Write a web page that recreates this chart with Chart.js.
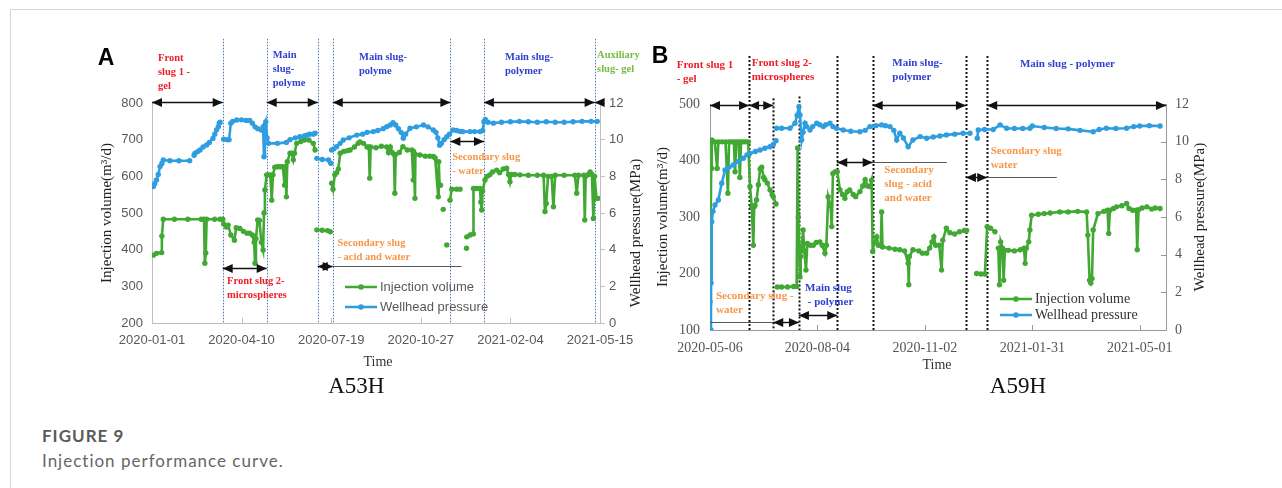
<!DOCTYPE html>
<html>
<head>
<meta charset="utf-8">
<script src="https://cdn.jsdelivr.net/npm/chart.js@4.4.0/dist/chart.umd.min.js"></script>
<style>
  html, body { margin: 0; padding: 0; background: #fff; }
  body { width: 1282px; height: 488px; position: relative; overflow: hidden; }
  .frame-top { position: absolute; left: 10px; top: 9px; width: 1272px; height: 1px; background: #d6d6d6; }
  .frame-left { position: absolute; left: 10px; top: 9px; width: 1px; height: 479px; background: #d6d6d6; }
  #chartA { position: absolute; left: 80px; top: 36px; }
  #chartB { position: absolute; left: 640px; top: 36px; }
  .fig-title { position: absolute; left: 42px; top: 425px; font: bold 17px Lato, sans-serif; color: #5a5a5a; letter-spacing: 1px; }
  .fig-text { position: absolute; left: 42px; top: 450px; font: 17px Lato, sans-serif; color: #666; letter-spacing: 1px; }
</style>
</head>
<body>
<div class="frame-top"></div>
<div class="frame-left"></div>
<canvas id="chartA" width="580" height="370"></canvas>
<canvas id="chartB" width="580" height="370"></canvas>
<div class="fig-title">FIGURE 9</div>
<div class="fig-text">Injection performance curve.</div>
<script>
// ---- A53H (days since 2020-01-01) ----
const volDaysA = [1.5, 5, 10.8, 11, 12.6, 25, 40, 55, 58, 59, 60, 61, 70, 76, 79, 80, 83, 85, 88, 92, 94, 98, 102, 106, 109, 112, 114, 115, 116, 118, 120, 122, 124, 125, 126, 128, 130, 132, 133.6, 135, 137, 140, 143, 146, 148, 149, 150, 151, 154, 156, 157.7, 159, 161.5, 166, 170, 175, 180, 182, 183,
  184, 190, 196, 199, 200,
  200.5, 202, 204, 206, 208, 210, 214, 218, 221, 226, 230, 232, 236, 240, 242, 243, 244, 250, 256, 262, 264, 266, 268, 270, 271, 272, 276, 280, 285, 290, 291.6, 292, 293.5, 294, 299, 305, 310, 314, 316, 319.5, 320, 321, 322, 323,
  325, 326, 329, 330,
  332.6, 334.5, 340, 343.8, 345, 351, 351.2, 351.3, 355, 358.6, 358.8, 362, 366, 367, 368, 369, 371.6, 374, 377, 380, 384.7, 388, 392, 395.8, 398, 399.5, 401, 405, 410.7, 420, 430, 437, 438.6, 440, 442, 446, 448, 450, 460, 472, 474, 476, 482, 483, 484, 487, 489, 491, 492.6, 494, 496, 498];
const volumeA = [385, 390, 392, 437, 483, 483, 483, 483, 483, 363, 391, 483, 483, 483, 483, 470, 462, 467, 440, 426, 460, 458, 450, 445, 445, 440, 420, 363, 430, 481, 480, 420, 399, 500, 563, 604, 604, 604, 535, 604, 625, 626, 626, 626, 576, 626, 544, 640, 663, 663, 645, 663, 690, 695, 699, 699, 690, 672, null,
  454, 453, 452, 449, null,
  581, 565, 604, 610, 620, 663, 668, 670, 672, 680, 690, 694, 690, 680, 680, 595, 680, 678, 682, 680, 665, 680, 665, 660, 554, 660, 665, 681, 672, 672, 590, 668, 540, 660, 658, 655, 655, 654, 650, 544, 640, 576, 576, null,
  510, null, 413, null,
  535, 565, 565, 565, null, 404, null, 435, 440, 443, 567, 567, 567, 530, 508, 560, 590, 600, 604, 612, 617, 610, 620, 622, 605, 585, 605, 605, 604, 603, 603, 603, 504, 526, 600, 600, 517, 603, 603, 603, 554, 603, 603, 481, 600, 605, 612, 605, 485, 600, 540, 540];

const presDaysA = [1.5, 3, 5, 7, 9, 11, 12.6, 20, 30, 42, 45,
  47, 48, 51, 53.6, 57, 61, 64, 68, 70, 72, 74, 75, 76, 78,
  80, 84, 86, 88, 90, 94.5, 100, 105, 109, 112, 115, 118, 122, 124, 125, 126, 127, 128.5, 130, 140, 150, 154, 160, 165, 170, 172.6, 176, 180, 182, 183,
  184, 190, 197, 199.5, 200,
  200.5, 203, 206, 210, 213.5, 220, 228.5, 235, 240, 247, 252, 258, 262, 266, 269, 272, 275, 278, 280.5, 283, 288, 295, 303, 308, 314, 317, 319, 321, 323, 326, 329, 332, 336, 340, 344, 347, 355, 360, 366, 369, 370.5, 372, 375, 381, 390, 400, 410, 420, 430, 440, 450, 460, 470, 480, 490, 497];
const pressureA = [7.44, 7.6, 7.8, 8.1, 8.53, 8.7, 8.89, 8.85, 8.85, 8.85, null,
  9.15, 9.26, 9.35, 9.44, 9.6, 9.71, 9.85, 10.07, 10.3, 10.53, 10.7, 10.9, 10.95, null,
  10.02, 10.0, 10.0, 10.9, 11.0, 11.07, 11.08, 11.05, 11.05, 10.9, 10.7, 10.6, 10.53, 10.7, 9.07, 10.8, 10.98, 10.1, 9.8, 9.8, 9.85, 10.0, 10.1, 10.16, 10.2, 10.25, 10.3, 10.3, 10.35, null,
  8.98, 8.92, 8.89, 8.71, null,
  9.44, 9.5, 9.62, 9.8, 9.98, 10.1, 10.25, 10.3, 10.4, 10.44, 10.5, 10.6, 10.71, 10.8, 10.93, 10.8, 10.6, 10.4, 10.08, 10.3, 10.62, 10.7, 10.8, 10.7, 10.53, 10.4, 10.1, 9.7, 9.8, 10.0, 10.16, 10.3, 10.53, 10.5, 10.45, 10.44, 10.44, 10.44, 10.44, 10.5, 10.98, 11.1, 10.95, 10.9, 10.95, 10.98, 11.0, 10.98, 10.95, 10.98, 10.95, 10.95, 10.98, 11.0, 11.0, 11.0];

// ---- A59H (days since 2020-05-06) ----
const volDaysB = [0, 1.2, 1.4, 1.6, 4, 6, 7, 10, 13, 15, 16, 18, 20, 21, 22, 24, 25, 26, 28, 30, 32, 33.5, 35, 36.3, 37, 37.7, 39, 40.5, 42, 43.3, 45, 46, 48, 50.3, 52, 53, 55.3, 56,
  56.4, 60, 65, 70, 72.6, 73.4, 74, 75.4, 76, 78, 79, 80.4, 81.5, 84, 86.5, 89, 92, 94, 96.3, 97.5, 99, 101, 102, 103, 105, 106.6, 108.9, 111, 113, 115, 117, 120, 122, 125.6, 128, 130, 132, 134, 135.4, 136.3, 137.5, 139.6, 141, 143, 143.8, 144.5, 150, 155, 159, 163, 166, 166.5, 167, 170, 175, 178, 181.5, 184, 186, 187.5, 189, 192, 194, 195, 198, 201, 205, 209, 213, 215, 220,
  223.4, 227, 230.3, 232.2, 235, 238.7, 240,
  241.5, 242.5, 243.5, 245, 246, 247, 250, 255, 260, 263, 264, 265, 267, 268, 269.4, 275, 280, 285, 293, 300, 308, 315.5, 316.5, 318, 319, 320, 321, 325, 330, 333, 334, 335, 338, 340.6, 345, 349, 351, 354, 357, 357.9, 359, 362, 366, 370, 373, 377];
const volumeB = [150, 436, 386, 436, 433, 386, 433, 433, 433, 342, 433, 433, 433, 380, 433, 433, 370, 433, 433, 433, 433, 354, 318, 250, 318, 321, 330, 357, 385, 388, 370, 366, 360, 348, 340, 336, 323, null,
  176, 176, 176, 177, 177, 422, 300, 194, 230, 277, 240, 206, 253, 250, 250, 255, 256, 250, 236, 250, 336, 320, 283, 377, 380, 380, 348, 340, 333, 345, 348, 340, 336, 345, 355, 366, 355, 354, 365, 239, 255, 265, 250, 250, 309, 247, 245, 243, 242, 240, 218, 180, 230, 242, 240, 236, 236, 245, 256, 265, 250, 250, 206, 259, 280, 272, 270, 274, 276, 276, null,
  200, 199, 199, 283, 280, 274, null,
  245, 180, 256, 245, 188, 241, 241, 240, 242, 245, 218, 245, 256, 277, 303, 305, 306, 307, 309, 309, 310, 309, 268, 188, 183, 191, 277, 306, 310, 312, 271, 312, 315, 318, 320, 324, 315, 312, 312, 242, 313, 316, 318, 314, 316, 315];

const presDaysB = [0.8, 0.9, 1.4, 2.5, 4.2, 7, 9.8, 12.6, 16, 19.5, 24, 27.9, 31, 33.5, 38, 41.9, 46, 50.2, 53, 55.3, 55.5,
  55.8, 60, 67, 71.2, 73, 74.5, 75.4, 76.8, 78, 79.6, 81, 83.8, 86, 89.4, 92, 94.9, 97, 100.5, 103, 106, 111.6, 118, 125.6, 130, 134, 139, 143.8, 147, 150.8, 154, 156.4, 159, 162, 166, 170, 176, 181.5, 187, 192.6, 198, 205, 212, 217.8, 220,
  223.9, 224.7, 230, 237.3, 243, 248.5, 255, 262, 268, 270, 280, 290, 300, 310, 321, 326, 332, 340, 349, 355, 360, 368, 377];
const pressureB = [0, 2.5, 5.75, 6.3, 6.64, 6.9, 7.79, 8.5, 8.65, 8.76, 8.95, 9.12, 9.3, 9.38, 9.48, 9.56, 9.65, 9.73, 9.85, 10.05, null,
  10.71, 10.71, 10.71, 10.98, 11.4, 11.86, 11.42, 10.09, 10.5, 10.98, 10.8, 10.62, 10.8, 10.98, 10.9, 10.8, 10.9, 10.98, 10.8, 10.71, 10.62, 10.55, 10.53, 10.6, 10.8, 10.85, 10.89, 10.85, 10.8, 10.6, 10.09, 10.45, 10.2, 9.73, 10.09, 10.27, 10.18, 10.25, 10.3, 10.36, 10.4, 10.45, 10.45, null,
  10.18, 10.62, 10.65, 10.65, 10.89, 10.71, 10.7, 10.7, 10.71, 10.83, 10.75, 10.7, 10.68, 10.6, 10.53, 10.65, 10.71, 10.7, 10.71, 10.8, 10.83, 10.85, 10.83];

// ---- phase annotations: x in days, y in MPa (right axis) ----
const RED = "#ee1c25";
const BLUE = "#2f3fd0";
const ORANGE = "#f79646";
const LIME = "#76bb40";

const dividersA = [78.9, 128, 185, 201.7, 333, 370.5, 494];
const dividerTopsA = [15.5, 15.5, 15.5, 15.5, 15.5, 15.5, 15.5];
const arrowsA = [
  { from: 0, to: 78.9, p: 12.06, heads: "both" },
  { from: 128, to: 185, p: 12.06, heads: "both" },
  { from: 201.7, to: 333, p: 12.06, heads: "both" },
  { from: 370.5, to: 494, p: 12.06, heads: "both" },
  { from: 494, to: 500, p: 12.06, heads: "left" },
  { from: 78.9, to: 128, p: 3.0, heads: "both" },
  { from: 185, to: 201.7, p: 3.13, heads: "both" },
  { from: 201.7, to: 345.5, p: 3.13, heads: "none" },
  { from: 333, to: 370.5, p: 9.9, heads: "both" }
];
const phaseLabelsA = [
  { lines: ["Front", "slug 1 -", "gel"], day: 6.7, p: 14.46, color: RED },
  { lines: ["Main", "slug-", "polyme"], day: 134.7, p: 14.62, color: BLUE },
  { lines: ["Main slug-", "polyme"], day: 231, p: 14.51, color: BLUE },
  { lines: ["Main slug-", "polymer"], day: 394, p: 14.51, color: BLUE },
  { lines: ["Auxiliary", "slug- gel"], day: 496.7, p: 14.62, color: LIME },
  { lines: ["Front slug 2-", "microspheres"], day: 83.7, p: 2.29, color: RED },
  { lines: ["Secondary slug", "- acid and water"], day: 207, p: 4.36, color: ORANGE },
  { lines: ["Secondary slug", "- water"], day: 335, p: 9.02, color: ORANGE }
];

const dividersB = [32.7, 53, 74.5, 106.6, 136.3, 214.4, 232.2];
const dividerTopsB = [14.55, 12.3, 12.4, 14.55, 14.55, 14.55, 14.55];
const arrowsB = [
  { from: 0, to: 32.7, p: 11.95, heads: "both" },
  { from: 32.7, to: 53, p: 11.95, heads: "both" },
  { from: 136.3, to: 214.4, p: 11.95, heads: "both" },
  { from: 232.2, to: 382, p: 11.95, heads: "both" },
  { from: 106.6, to: 136.3, p: 8.94, heads: "both" },
  { from: 136.3, to: 198.3, p: 8.94, heads: "none" },
  { from: 214.4, to: 232.2, p: 8.14, heads: "both" },
  { from: 232.2, to: 290.5, p: 8.14, heads: "none" },
  { from: 0, to: 53, p: 0.44, heads: "none" },
  { from: 53, to: 74.5, p: 0.44, heads: "both" },
  { from: 74.5, to: 106.6, p: 0.8, heads: "both" }
];
const phaseLabelsB = [
  { lines: ["Front slug 1", "- gel"], day: -27.9, p: 14.07, color: RED },
  { lines: ["Front slug 2-", "microspheres"], day: 34.9, p: 14.15, color: RED },
  { lines: ["Main slug-", "polymer"], day: 152.7, p: 14.15, color: BLUE },
  { lines: ["Main slug - polymer"], day: 259.6, p: 14.13, color: BLUE },
  { lines: ["Secondary", "slug - acid", "and water"], day: 146, p: 8.5, color: ORANGE },
  { lines: ["Secondary slug", "water"], day: 235.1, p: 9.51, color: ORANGE },
  { lines: ["Secondary slug -", "water"], day: 5, p: 1.82, color: ORANGE },
  { lines: ["Main slug", " - polymer"], day: 79.6, p: 2.23, color: BLUE }
];

const GREEN = "#41a834";
const SKY = "#2f9ee0";

function toPoints(days, values) {
  return days.map((d, i) => ({ x: d, y: values[i] }));
}

function dayLabel(base, d) {
  return new Date(base + d * 86400000).toISOString().slice(0, 10);
}

function drawArrow(ctx, x1, x2, y, heads, color, width) {
  ctx.save();
  ctx.strokeStyle = color;
  ctx.fillStyle = color;
  ctx.lineWidth = width;
  ctx.beginPath();
  ctx.moveTo(x1, y);
  ctx.lineTo(x2, y);
  ctx.stroke();
  const len = 10, half = 4.5;
  if (heads === "both" || heads === "left") {
    ctx.beginPath();
    ctx.moveTo(x1, y);
    ctx.lineTo(x1 + len, y - half);
    ctx.lineTo(x1 + len, y + half);
    ctx.closePath();
    ctx.fill();
  }
  if (heads === "both" || heads === "right") {
    ctx.beginPath();
    ctx.moveTo(x2, y);
    ctx.lineTo(x2 - len, y - half);
    ctx.lineTo(x2 - len, y + half);
    ctx.closePath();
    ctx.fill();
  }
  ctx.restore();
}

function makeOverlay(cfg) {
  return {
    id: "overlay",
    beforeDatasetsDraw(chart) {
      const ctx = chart.ctx;
      const xs = chart.scales.x;
      const ys = chart.scales.y1;
      const area = chart.chartArea;
      ctx.save();
      ctx.strokeStyle = cfg.dividerColor;
      ctx.lineWidth = cfg.dividerWidth;
      ctx.setLineDash(cfg.dividerDash);
      cfg.dividers.forEach((d, i) => {
        const x = Math.round(xs.getPixelForValue(d)) + 0.5;
        ctx.beginPath();
        ctx.moveTo(x, ys.getPixelForValue(cfg.dividerTops[i]));
        ctx.lineTo(x, area.bottom);
        ctx.stroke();
      });
      ctx.restore();

      // small inward tick marks
      ctx.save();
      ctx.strokeStyle = cfg.axisColor;
      ctx.lineWidth = 1;
      xs.ticks.forEach((t) => {
        const x = Math.round(xs.getPixelForValue(t.value)) + 0.5;
        ctx.beginPath();
        ctx.moveTo(x, area.bottom);
        ctx.lineTo(x, area.bottom - 5);
        ctx.stroke();
      });
      if (cfg.innerRightTicks) {
        ys.ticks.forEach((t) => {
          const y = Math.round(ys.getPixelForValue(t.value)) + 0.5;
          ctx.beginPath();
          ctx.moveTo(area.right, y);
          ctx.lineTo(area.right - 5, y);
          ctx.stroke();
        });
      }
      ctx.restore();
    },
    afterDatasetsDraw(chart) {
      const ctx = chart.ctx;
      const xs = chart.scales.x;
      const ys = chart.scales.y1;
      cfg.arrows.forEach((a) => {
        const y = Math.round(ys.getPixelForValue(a.p)) + 0.5;
        const color = a.heads === "none" ? "#555" : "#111";
        drawArrow(ctx, xs.getPixelForValue(a.from), xs.getPixelForValue(a.to), y, a.heads, color, a.heads === "none" ? 1 : 1.4);
      });
      ctx.save();
      ctx.font = cfg.labelFont;
      ctx.textAlign = "left";
      ctx.textBaseline = "middle";
      cfg.labels.forEach((l) => {
        ctx.fillStyle = l.color;
        const x = xs.getPixelForValue(l.day);
        const y = ys.getPixelForValue(l.p);
        l.lines.forEach((line, i) => ctx.fillText(line, x, y + i * cfg.labelLine));
      });
      ctx.restore();
    },
    afterDraw(chart) {
      const ctx = chart.ctx;
      const area = chart.chartArea;
      const xs = chart.scales.x;
      const ys = chart.scales.y1;
      ctx.save();
      ctx.fillStyle = "#222";
      ctx.textAlign = "center";
      ctx.textBaseline = "middle";
      ctx.font = "15px 'Liberation Serif'";
      const midY = (area.top + area.bottom) / 2;
      ctx.save();
      ctx.translate(area.left - cfg.leftTitleGap, midY + cfg.leftTitleShift);
      ctx.rotate(-Math.PI / 2);
      ctx.fillText("Injection volume(m\u00b3/d)", 0, 0);
      ctx.restore();
      ctx.save();
      ctx.translate(area.right + cfg.rightTitleGap, midY + cfg.rightTitleShift);
      ctx.rotate(-Math.PI / 2);
      ctx.fillText("Wellhead pressure(MPa)", 0, 0);
      ctx.restore();
      ctx.fillStyle = "#333";
      ctx.font = "14px 'Liberation Serif'";
      ctx.fillText("Time", cfg.timeX, area.bottom + cfg.timeGap);
      ctx.fillStyle = "#111";
      ctx.font = "23px 'Liberation Serif'";
      ctx.fillText(cfg.well, xs.getPixelForValue(cfg.wellDay), area.bottom + cfg.wellGap);
      ctx.font = "bold 23px 'Liberation Sans'";
      ctx.fillStyle = "#000";
      ctx.fillText(cfg.letter, area.left - cfg.letterDx, area.top - cfg.letterDy);

      // legend
      const lx = xs.getPixelForValue(cfg.legendDay);
      chart.data.datasets.slice().sort((a, b) => a.legendRank - b.legendRank).forEach((ds, i) => {
        const y = ys.getPixelForValue(cfg.legendP) + i * cfg.legendRow;
        ctx.strokeStyle = ds.borderColor;
        ctx.fillStyle = ds.borderColor;
        ctx.lineWidth = 2.5;
        ctx.beginPath();
        ctx.moveTo(lx, y);
        ctx.lineTo(lx + 32, y);
        ctx.stroke();
        ctx.beginPath();
        ctx.arc(lx + 16, y, 2.8, 0, Math.PI * 2);
        ctx.fill();
        ctx.fillStyle = cfg.legendColor;
        ctx.font = cfg.legendFont;
        ctx.textAlign = "left";
        ctx.fillText(ds.label, lx + 35, y + 0.5);
      });
      ctx.restore();
    }
  };
}

function buildChart(canvasId, opt) {
  return new Chart(document.getElementById(canvasId), {
    type: "line",
    data: {
      datasets: [
        {
          label: "Wellhead pressure",
          data: toPoints(opt.presDays, opt.pressure),
          yAxisID: "y1",
          borderColor: SKY,
          backgroundColor: SKY,
          pointBackgroundColor: SKY,
          legendRank: 1,
          order: 1
        },
        {
          label: "Injection volume",
          data: toPoints(opt.volDays, opt.volume),
          yAxisID: "y",
          borderColor: GREEN,
          backgroundColor: GREEN,
          pointBackgroundColor: GREEN,
          legendRank: 0,
          order: 2
        }
      ]
    },
    options: {
      responsive: false,
      animation: false,
      devicePixelRatio: 1,
      spanGaps: false,
      layout: { padding: { top: opt.padTop, left: 0, right: 0, bottom: 0 } },
      elements: {
        line: { borderWidth: 2.6, tension: 0 },
        point: { radius: 2.7, borderWidth: 0, hoverRadius: 2.7 }
      },
      plugins: { legend: { display: false }, tooltip: { enabled: false } },
      scales: {
        x: {
          type: "linear",
          min: 0,
          max: opt.xMax,
          afterFit: (s) => { s.height = opt.xHeight; },
          grid: { drawOnChartArea: false, drawTicks: false },
          border: { color: opt.axisColor },
          ticks: {
            stepSize: opt.xStep,
            includeBounds: false,
            maxRotation: 0,
            padding: opt.xPad,
            color: opt.tickColor,
            font: opt.tickFont,
            callback: (v) => dayLabel(opt.baseDate, v)
          }
        },
        y: {
          position: "left",
          min: opt.yMin,
          max: opt.yMax,
          afterFit: (s) => { s.width = opt.leftWidth; },
          grid: { drawOnChartArea: false, drawTicks: false },
          border: { color: opt.axisColor },
          ticks: { stepSize: 100, padding: opt.leftPad, color: opt.tickColor, font: opt.tickFont }
        },
        y1: {
          position: "right",
          min: 0,
          max: 12,
          afterFit: (s) => { s.width = opt.rightWidth; },
          grid: { drawOnChartArea: false, drawTicks: opt.outerRightTicks, tickLength: 5, color: opt.axisColor },
          border: { color: opt.axisColor },
          ticks: { stepSize: 2, padding: opt.rightPad, color: opt.tickColor, font: opt.tickFont }
        }
      }
    },
    plugins: [makeOverlay(opt.overlay)]
  });
}

buildChart("chartA", {
  presDays: presDaysA, pressure: pressureA, volDays: volDaysA, volume: volumeA,
  baseDate: Date.UTC(2020, 0, 1), xMax: 500, xStep: 100,
  yMin: 200, yMax: 800,
  padTop: 67, xHeight: 83, leftWidth: 72, rightWidth: 60,
  xPad: 10, leftPad: 9, rightPad: 4, outerRightTicks: true,
  axisColor: "#bfbfbf", tickColor: "#595959",
  tickFont: { family: "'Liberation Sans', sans-serif", size: 13 },
  overlay: {
    dividers: dividersA, dividerTops: dividerTopsA, dividerColor: "#4a78b0", dividerWidth: 1, dividerDash: [1.5, 1.5],
    arrows: arrowsA, labels: phaseLabelsA, labelFont: "bold 10.5px 'Liberation Serif'", labelLine: 14,
    axisColor: "#bfbfbf", innerRightTicks: false,
    leftTitleGap: 45, leftTitleShift: 0, rightTitleGap: 36, rightTitleShift: 20,
    timeX: 298, timeGap: 39, well: "A53H", wellDay: 228, wellGap: 64,
    letter: "A", letterDx: 46, letterDy: 44,
    legendDay: 215.4, legendP: 1.96, legendRow: 20, legendColor: "#595959",
    legendFont: "13px 'Liberation Sans'"
  }
});

buildChart("chartB", {
  presDays: presDaysB, pressure: pressureB, volDays: volDaysB, volume: volumeB,
  baseDate: Date.UTC(2020, 4, 6), xMax: 382, xStep: 90,
  yMin: 100, yMax: 500,
  padTop: 68, xHeight: 76, leftWidth: 70, rightWidth: 54,
  xPad: 10, leftPad: 10, rightPad: 9, outerRightTicks: false,
  axisColor: "#999", tickColor: "#555",
  tickFont: { family: "'Liberation Serif', serif", size: 14 },
  overlay: {
    dividers: dividersB, dividerTops: dividerTopsB, dividerColor: "#111", dividerWidth: 2, dividerDash: [2, 2],
    arrows: arrowsB, labels: phaseLabelsB, labelFont: "bold 11px 'Liberation Serif'", labelLine: 14,
    axisColor: "#999", innerRightTicks: true,
    leftTitleGap: 47, leftTitleShift: 0, rightTitleGap: 34, rightTitleShift: 0,
    timeX: 297, timeGap: 35, well: "A59H", wellDay: 258, wellGap: 57,
    letter: "B", letterDx: 50, letterDy: 47,
    legendDay: 242.9, legendP: 1.65, legendRow: 16, legendColor: "#333",
    legendFont: "14px 'Liberation Serif'"
  }
});
</script>
</body>
</html>
